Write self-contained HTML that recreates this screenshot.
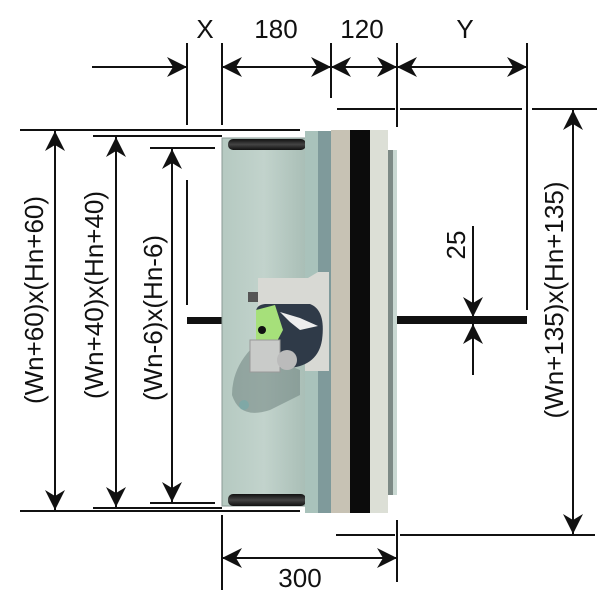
<!DOCTYPE html>
<html><head><meta charset="utf-8"><style>
html,body{margin:0;padding:0;background:#fff;width:600px;height:600px;overflow:hidden}
svg{display:block}
text{font-family:"Liberation Sans",sans-serif;fill:#111}
</style></head><body>
<svg width="600" height="600" viewBox="0 0 600 600" xmlns="http://www.w3.org/2000/svg">
<defs>
<marker id="a" viewBox="0 0 20 20" refX="20" refY="10" markerWidth="20" markerHeight="20" markerUnits="userSpaceOnUse" orient="auto-start-reverse">
<path d="M0,0 L20,10 L0,20 L6,10 Z" fill="#111"/></marker>
<linearGradient id="cyl" x1="0" x2="1"><stop offset="0" stop-color="#b5c9c1"/><stop offset="0.5" stop-color="#c2d3cc"/><stop offset="1" stop-color="#a9beb6"/></linearGradient>
<linearGradient id="cap" x1="0" y1="0" x2="0" y2="1"><stop offset="0" stop-color="#111"/><stop offset="0.5" stop-color="#444"/><stop offset="1" stop-color="#111"/></linearGradient>
</defs>
<g stroke="#111" stroke-width="2" fill="none">
<line x1="187" y1="43" x2="187" y2="125"/>
<line x1="222" y1="43" x2="222" y2="125"/>
<line x1="331" y1="43" x2="331" y2="98"/>
<line x1="397" y1="43" x2="397" y2="127"/>
<line x1="527" y1="43" x2="527" y2="310"/>
<line x1="92" y1="67" x2="187" y2="67" marker-end="url(#a)"/>
<line x1="222" y1="67" x2="331" y2="67" marker-start="url(#a)" marker-end="url(#a)"/>
<line x1="331" y1="67" x2="397" y2="67" marker-start="url(#a)" marker-end="url(#a)"/>
<line x1="397" y1="67" x2="527" y2="67" marker-start="url(#a)" marker-end="url(#a)"/>
<line x1="20" y1="130" x2="300" y2="130"/>
<line x1="93" y1="136" x2="222" y2="136"/>
<line x1="150" y1="148" x2="215" y2="148"/>
<line x1="20" y1="511" x2="300" y2="511"/>
<line x1="93" y1="508" x2="222" y2="508"/>
<line x1="150" y1="503" x2="215" y2="503"/>
<line x1="187" y1="180" x2="187" y2="305"/>
<line x1="55" y1="131" x2="55" y2="510" marker-start="url(#a)" marker-end="url(#a)"/>
<line x1="116" y1="137" x2="116" y2="507" marker-start="url(#a)" marker-end="url(#a)"/>
<line x1="172" y1="149" x2="172" y2="502" marker-start="url(#a)" marker-end="url(#a)"/>
<line x1="337" y1="109" x2="395" y2="109"/>
<line x1="400" y1="109" x2="522" y2="109"/>
<line x1="532" y1="109" x2="597" y2="109"/>
<line x1="336" y1="535" x2="395" y2="535"/>
<line x1="400" y1="535" x2="595" y2="535"/>
<line x1="573" y1="110" x2="573" y2="534" marker-start="url(#a)" marker-end="url(#a)"/>
<line x1="473" y1="226" x2="473" y2="317" marker-end="url(#a)"/>
<line x1="473" y1="375" x2="473" y2="324" marker-end="url(#a)"/>
<line x1="222" y1="515" x2="222" y2="590"/>
<line x1="397" y1="520" x2="397" y2="582"/>
<line x1="222" y1="558" x2="397" y2="558" marker-start="url(#a)" marker-end="url(#a)"/>
</g>
<rect x="187" y="317" width="36" height="7" fill="#111"/>
<rect x="397" y="316" width="130" height="8" fill="#111"/>
<rect x="222" y="138" width="84" height="368" fill="url(#cyl)" stroke="#8a9a95" stroke-width="1"/>
<rect x="228" y="139" width="78" height="11" rx="5" fill="url(#cap)"/>
<rect x="228" y="494" width="78" height="12" rx="5" fill="url(#cap)"/>
<rect x="305" y="131" width="26" height="382" fill="#a9c2bb"/>
<rect x="318" y="131" width="13" height="382" fill="#7f9a9b"/>
<rect x="331" y="130" width="19" height="383" fill="#c7c2b4"/>
<rect x="350" y="130" width="20" height="383" fill="#0c0c0c"/>
<rect x="370" y="130" width="18" height="383" fill="#dcdfd6"/>
<rect x="388" y="150" width="5" height="345" fill="#7d8a86"/>
<rect x="393" y="150" width="4" height="345" fill="#c9d8d2"/>
<path d="M250,350 Q232,370 232,395 Q240,420 270,410 L300,395 L300,370 Z" fill="#6f837f" opacity="0.55"/>
<path d="M258,278 L308,278 L318,272 L329,272 L329,371 L305,371 L305,345 L258,345 Z" fill="#d8d9d4"/>
<rect x="248" y="292" width="10" height="10" fill="#555"/>
<path d="M256,312 Q256,305 265,304 L310,304 Q326,310 322,340 Q318,365 290,368 L256,368 Z" fill="#2f3a48"/>
<path d="M256,310 L275,305 L283,330 L275,345 L256,345 Z" fill="#a6e07a"/>
<rect x="250" y="340" width="30" height="32" fill="#c9cbc9" stroke="#999" stroke-width="1"/>
<circle cx="287" cy="360" r="10" fill="#bbb"/>
<path d="M280,312 L300,318 L318,326 L300,330 L290,322 Z" fill="#eee"/>
<circle cx="262" cy="330" r="4" fill="#111"/>
<circle cx="244" cy="405" r="5" fill="#7fa8a6"/>
<text x="205" y="38" font-size="26" text-anchor="middle">X</text>
<text x="276" y="38" font-size="26" text-anchor="middle">180</text>
<text x="362" y="38" font-size="26" text-anchor="middle">120</text>
<text x="465" y="38" font-size="26" text-anchor="middle">Y</text>
<text x="300" y="587" font-size="26" text-anchor="middle">300</text>
<text transform="translate(43,300) rotate(-90)" font-size="26" text-anchor="middle">(Wn+60)x(Hn+60)</text>
<text transform="translate(103,295) rotate(-90)" font-size="26" text-anchor="middle">(Wn+40)x(Hn+40)</text>
<text transform="translate(162,318) rotate(-90)" font-size="26" text-anchor="middle">(Wn-6)x(Hn-6)</text>
<text transform="translate(563,300) rotate(-90)" font-size="26" text-anchor="middle">(Wn+135)x(Hn+135)</text>
<text transform="translate(465,245) rotate(-90)" font-size="26" text-anchor="middle">25</text>
</svg>
</body></html>
